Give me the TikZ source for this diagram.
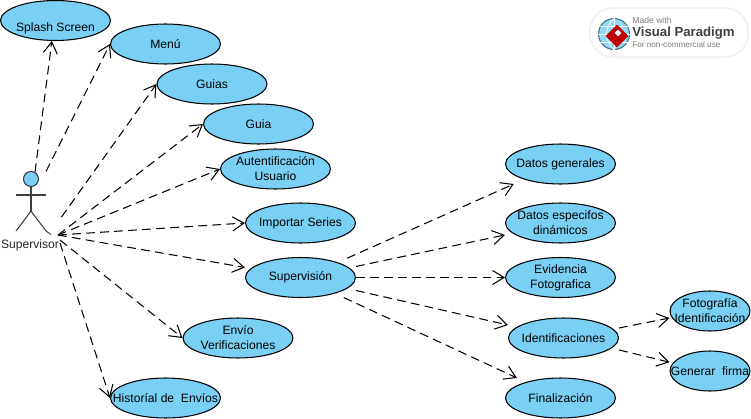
\documentclass[tikz,border=0pt]{standalone}
\usepackage{fontspec}
\setmainfont{Liberation Sans}
\usetikzlibrary{shapes.geometric,arrows.meta}
\definecolor{ucblue}{RGB}{122,207,245}
\definecolor{badgegray}{RGB}{125,125,125}
\tikzset{
	usecase/.style={ellipse, draw=black, fill=ucblue, line width=0.6pt, inner sep=-10pt, minimum width=2.2cm, minimum height=0.8cm, align=center, font=\fontsize{6.9}{8.6}\selectfont},
	subcase/.style={usecase, minimum width=1.6cm},
	include/.style={draw=black, line width=0.6pt, dash pattern=on 5pt off 3pt, -{Straight Barb[length=6.5pt,width=8pt]}},
	actorline/.style={draw=black!75, line width=0.6pt},
	badgetext/.style={inner sep=0pt, anchor=west}
}
\begin{document}
\begin{tikzpicture}[x=0.02cm,y=-0.02cm]
	\useasboundingbox (0,0) rectangle (751,419);
	% watermark
	\fill [black!5, rounded corners=0.48cm] (589,7) rectangle (749,58);
	\fill [white, rounded corners=0.44cm] (591,9) rectangle (747,56);
	\node [circle, fill=ucblue!80, draw=black!45!ucblue, line width=0.6pt, inner sep=0pt, minimum size=0.62cm] (globe) at (614,34) {};
	\draw [white, line width=0.4pt] (globe.west) -- (globe.east);
	\draw [white, line width=0.4pt] (globe.north) -- (globe.south);
	\draw [white, line width=0.4pt] (globe.north) .. controls (604,28) and (604,40) .. (globe.south);
	\draw [white, line width=0.4pt] (globe.150) -- (globe.30);
	\draw [white, line width=0.4pt] (globe.210) -- (globe.330);
	\node [diamond, fill=red!75!black, inner sep=0pt, minimum size=0.46cm] (mark) at (617,36) {};
	\node [diamond, fill=white, inner sep=0pt, minimum size=0.14cm] (markin) at (618,33) {};
	\node [badgetext, text=badgegray, font=\fontsize{4.9}{6}\selectfont] (made) at (632,20) {Made with};
	\node [badgetext, text=black!75, font=\fontsize{7.5}{9}\bfseries\selectfont] (vp) at (632,33) {Visual Paradigm};
	\node [badgetext, text=badgegray, font=\fontsize{4.65}{6}\selectfont] (nc) at (632,44.5) {For non-commercial use};
	% actor
	\node [circle, draw=black!80, fill=ucblue, line width=0.6pt, inner sep=0pt, minimum size=0.3cm] (head) at (31,179) {};
	\coordinate (hip) at (31,211);
	\coordinate (armL) at (16,195);
	\coordinate (armR) at (46,195);
	\coordinate (footL) at (16,231);
	\coordinate (footR) at (46,231);
	\coordinate (tick) at (51,234.5);
	\draw [actorline] (head) -- (hip);
	\draw [actorline] (armL) -- (armR);
	\draw [actorline] (footL) -- (hip) -- (footR) -- (tick);
	\node [inner sep=0pt, text=black!85, font=\fontsize{6.9}{8.6}\selectfont] (supervisor) at (30,245) {Supervisor};
	% use cases
	\node [usecase] (splash) at (55.5,20.5) {\raisebox{-4pt}[6pt][2pt]{Splash Screen}};
	\node [usecase] (menu) at (165.5,44) {Menú};
	\node [usecase] (guias) at (212,84) {Guias};
	\node [usecase] (guia) at (258.5,124) {Guia};
	\node [usecase] (auth) at (275.5,169) {Autentificación\\Usuario};
	\node [usecase] (series) at (300.5,223) {Importar Series};
	\node [usecase] (superv) at (300.5,277.5) {Supervisión};
	\node [usecase] (envio) at (238,338) {Envío\\Verificaciones};
	\node [usecase] (historial) at (165.5,398) {Historíal de\ \ Envíos};
	\node [usecase] (generales) at (560.5,164) {Datos generales};
	\node [usecase] (especificos) at (560.5,223) {Datos especifos\\dinámicos};
	\node [usecase] (evidencia) at (560.5,277.5) {Evidencia\\Fotografica};
	\node [usecase] (identif) at (563.5,338) {Identificaciones};
	\node [usecase] (final) at (560.5,398) {Finalización};
	\node [subcase] (foto) at (710,311) {Fotografía\\Identificación};
	\node [subcase] (firma) at (710,371) {Generar\ \ firma};
	% free ends near the actor
	\coordinate (actA) at (46,171.5);
	\coordinate (actB) at (61.5,217);
	\coordinate (actC) at (58,235);
	\coordinate (actD) at (60,240);
	\coordinate (actE) at (60,243);
	% from the actor
	\draw [include] (head.60) -- (splash.260);
	\draw [include] (actA) -- (menu.west);
	\draw [include] (actB) -- (guias.west);
	\draw [include] (actC) -- (guia.west);
	\draw [include] (actC) -- (auth.west);
	\draw [include] (actC) -- (series.west);
	\draw [include] (actC) -- ([yshift=5.7pt]superv.west);
	\draw [include] (actD) -- (envio.west);
	\draw [include] (actE) -- (historial.west);
	% from Supervision
	\draw [include] ([xshift=-5pt,yshift=11pt]superv.east) -- ([xshift=5pt,yshift=-11.4pt]generales.west);
	\draw [include] ([yshift=6.3pt]superv.east) -- ([yshift=-6.8pt]especificos.west);
	\draw [include] (superv.east) -- (evidencia.west);
	\draw [include] ([yshift=-7.4pt]superv.east) -- ([yshift=7.4pt]identif.west);
	\draw [include] ([xshift=-7pt,yshift=-11.4pt]superv.east) -- ([xshift=6.8pt,yshift=11.4pt]final.west);
	% from Identificaciones
	\draw [include] ([yshift=5.7pt]identif.east) -- ([yshift=-4pt]foto.west);
	\draw [include] ([yshift=-6.8pt]identif.east) -- ([yshift=5pt]firma.west);
\end{tikzpicture}
\end{document}
